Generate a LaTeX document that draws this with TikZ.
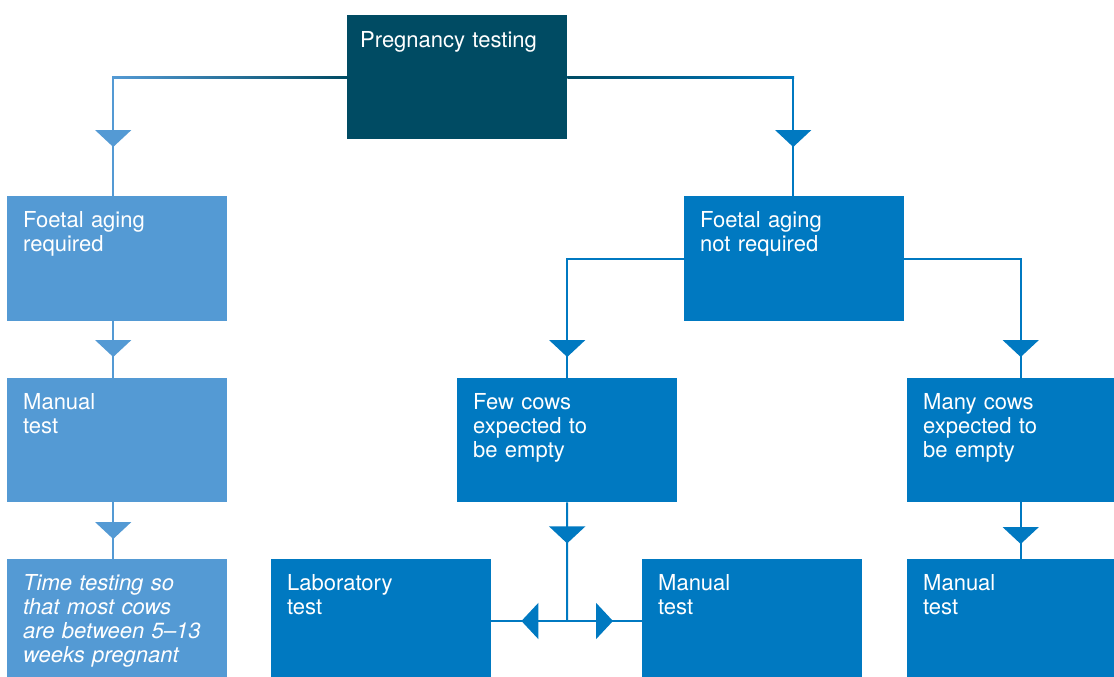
\documentclass[tikz,border=0pt]{standalone}
\usepackage{fontspec}
\setmainfont{TeX Gyre Heros}
\usetikzlibrary{arrows.meta,decorations.markings}
\definecolor{dteal}{RGB}{0,75,99}
\definecolor{lblue}{RGB}{84,154,212}
\definecolor{mblue}{RGB}{0,121,193}
\definecolor{midteal}{RGB}{0,128,178}
\tikzset{
  box/.style={anchor=north west, inner xsep=16pt, inner ysep=0pt, text=white,
    align=left, font=\fontsize{22}{24}\selectfont, text height=31pt},
  conn/.style={line width=2pt},
  marr/.style={postaction={decorate,decoration={markings,
    mark=at position #1 with {\arrow{Triangle[width=36pt,length=17pt]}}}}},
}
\begin{document}
\begin{tikzpicture}[x=1pt,y=-1pt]
\useasboundingbox (0,0) rectangle (1114,677);
% boxes
\node[box, fill=dteal, inner xsep=13pt, text width=194pt, text height=32pt, text depth=92pt] (preg) at (347,15) {Pregnancy testing};
\node[box, fill=lblue, text width=188pt, text depth=94pt] (fa1) at (7,196) {Foetal aging\\required};
\node[box, fill=lblue, text width=188pt, text depth=93pt] (man1) at (7,378) {Manual\\test};
\node[box, fill=lblue, text width=188pt, text depth=87pt, font=\fontsize{22}{24}\selectfont\itshape] (time) at (7,559) {Time testing so\\that most cows\\are between 5–13\\weeks pregnant};
\node[box, fill=mblue, text width=188pt, text depth=94pt] (fanr) at (684,196) {Foetal aging\\not required};
\node[box, fill=mblue, text width=188pt, text depth=93pt] (few) at (457,378) {Few cows\\expected to\\be empty};
\node[box, fill=mblue, text width=175pt, text depth=93pt] (many) at (907,378) {Many cows\\expected to\\be empty};
\node[box, fill=mblue, text width=188pt, text depth=87pt] (lab) at (271,559) {Laboratory\\test};
\node[box, fill=mblue, text width=188pt, text depth=87pt] (man2) at (642,559) {Manual\\test};
\node[box, fill=mblue, text width=175pt, text depth=87pt] (man3) at (907,559) {Manual\\test};
% connectors
\draw[conn, lblue, marr=-49pt] (preg.west) -| ([xshift=-4pt]fa1.north);
\shade[left color=lblue, middle color=midteal, right color=dteal]
  ([xshift=-5pt,yshift=1pt]fa1.north |- preg.west) rectangle ([yshift=-1pt]preg.west);
\draw[conn, mblue, marr=-49pt] (preg.east) -| ([xshift=-1pt]fanr.north);
\shade[left color=dteal, right color=mblue]
  ([yshift=1pt]preg.east) rectangle ([xshift=0pt,yshift=-1pt]fanr.north |- preg.east);
\draw[conn, lblue, marr=-21pt] ([xshift=-4pt]fa1.south) -- ([xshift=-4pt]man1.north);
\draw[conn, lblue, marr=-20pt] ([xshift=-4pt]man1.south) -- ([xshift=-4pt]time.north);
\draw[conn, mblue, marr=-21pt] (fanr.west) -| (few.north);
\draw[conn, mblue, marr=-21pt] (fanr.east) -| ([xshift=10pt]many.north);
\coordinate (jn) at (567,621);
\draw[conn, mblue, marr=41pt] (few.south) -- (jn);
\draw[conn, mblue, marr=-30pt] (jn) -- (jn -| lab.east);
\draw[conn, mblue, marr=-29pt] (jn) -- (jn -| man2.west);
\draw[conn, mblue, marr=-15pt] ([xshift=10pt]many.south) -- ([xshift=10pt]man3.north);
\end{tikzpicture}
\end{document}
